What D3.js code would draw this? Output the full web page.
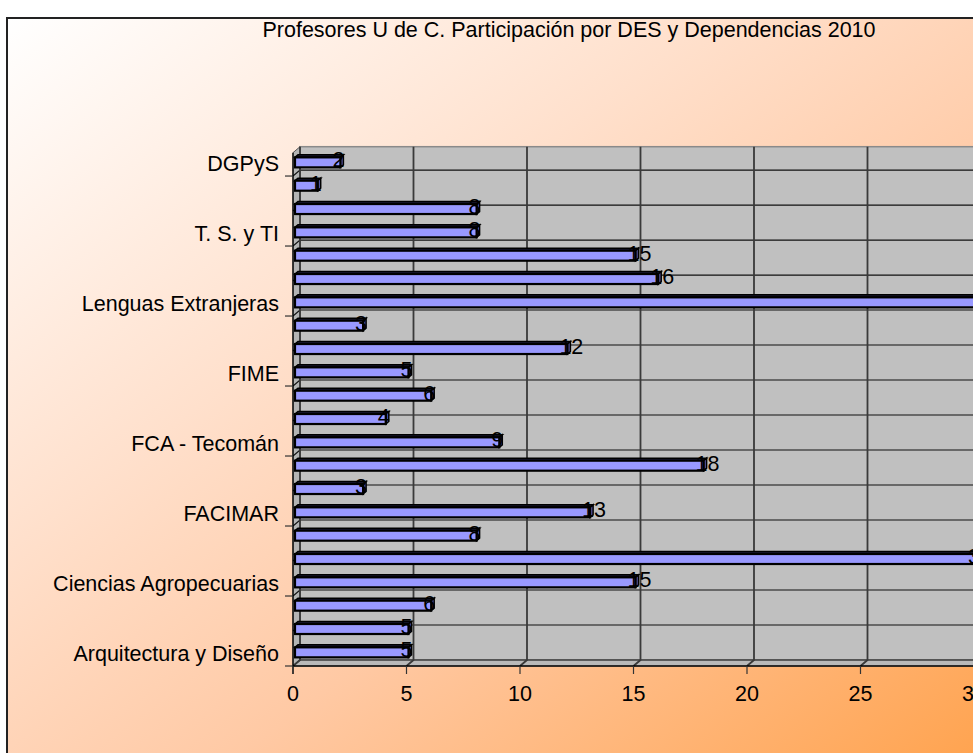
<!DOCTYPE html>
<html>
<head>
<meta charset="utf-8">
<script src="https://cdn.jsdelivr.net/npm/d3@7"></script>
<style>
body{margin:0;background:#fff;overflow:hidden}
text{font-family:"Liberation Sans",Arial,sans-serif;fill:#000}
</style>
</head>
<body>
<svg id="chart" width="973" height="753"></svg>
<script>
// data, bottom category first
var labels = ["Arquitectura y Diseño", null, null, "Ciencias Agropecuarias", null, null,
	"FACIMAR", null, null, "FCA - Tecomán", null, null, "FIME", null, null,
	"Lenguas Extranjeras", null, null, "T. S. y TI", null, null, "DGPyS"];
var values = [5, 5, 6, 15, 30, 8, 13, 3, 18, 9, 4, 6, 5, 12, 3, 36, 16, 15, 8, 8, 1, 2];
var xTicks = [0, 5, 10, 15, 20, 25, 30];
var title = "Profesores U de C. Participación por DES y Dependencias 2010";

var svg = d3.select('#chart');
var DX = 7, DY = -6; // 3d depth of the plot box
var FS = '21.5px';

//background gradient
var defs = svg.append('defs');
var grad = defs.append('linearGradient').attr('id','bg')
	.attr('x1',0).attr('y1',0).attr('x2',1).attr('y2',1);
grad.selectAll('stop')
	.data([[0,'#ffffff'],[0.35,'#ffe0cc'],[0.6,'#ffc9a4'],[1,'#ffa048']])
	.enter().append('stop')
	.attr('offset',function(d){return d[0]})
	.attr('stop-color',function(d){return d[1]});

svg.append('rect')
	.attr('x',7).attr('y',18).attr('width',1010).attr('height',760)
	.attr('fill','url(#bg)')
	.attr('stroke','#222').attr('stroke-width',2);

svg.append('text')
	.attr('x',569).attr('y',37)
	.attr('text-anchor','middle')
	.style('font-size',FS)
	.text(title);

//scales
var x = d3.scaleLinear().domain([0,30]).range([293,974]);
var y = d3.scaleLinear().domain([0,values.length]).range([666,152.7]);
var x0 = x(0), yTop = y(values.length), yBot = y(0), xEnd = 1000;

//walls
var plot = svg.append('g').attr('class','plot');
plot.append('rect').attr('class','back-wall')
	.attr('x',x0+DX).attr('y',yTop+DY)
	.attr('width',xEnd-x0-DX).attr('height',yBot-yTop)
	.attr('fill','#c0c0c0').attr('stroke','#8a8a8a').attr('stroke-width',1.5);
plot.append('path').attr('class','side-wall')
	.attr('d','M'+x0+','+yTop+'L'+(x0+DX)+','+(yTop+DY)+'L'+(x0+DX)+','+(yBot+DY)+'L'+x0+','+yBot+'Z')
	.attr('fill','#b4b4b4').attr('stroke','#555');
plot.append('path').attr('class','floor')
	.attr('d','M'+x0+','+yBot+'L'+(x0+DX)+','+(yBot+DY)+'L'+xEnd+','+(yBot+DY)+'L'+xEnd+','+yBot+'Z')
	.attr('fill','#b9b9b9').attr('stroke','#999');

//grid lines: every 1.5 categories horizontally, every 5 units vertically
var hGrid = d3.range(0, values.length, 1.5);
plot.selectAll('.grid-h')
	.data(hGrid)
	.enter().append('path').attr('class','grid-h')
	.attr('d',function(d){
		var yy = y(d);
		return 'M'+x0+','+yy+'L'+(x0+DX)+','+(yy+DY)+'L'+xEnd+','+(yy+DY);
	})
	.attr('fill','none').attr('stroke','#111').attr('stroke-width',1.2);
plot.selectAll('.grid-v')
	.data(xTicks)
	.enter().append('path').attr('class','grid-v')
	.attr('d',function(d){
		var xx = x(d);
		return 'M'+xx+','+yBot+'L'+(xx+DX)+','+(yBot+DY)+'L'+(xx+DX)+','+(yTop+DY);
	})
	.attr('fill','none').attr('stroke','#3a3a3a').attr('stroke-width',1.8);

//axes lines
plot.append('line').attr('x1',x0).attr('x2',xEnd).attr('y1',yBot).attr('y2',yBot)
	.attr('stroke','#000').attr('stroke-width',1.3);
plot.append('line').attr('x1',x0).attr('x2',x0).attr('y1',yTop).attr('y2',yBot+8)
	.attr('stroke','#000').attr('stroke-width',1.3);

//x ticks + labels
var xAxis = plot.append('g').attr('class','axis-x');
xAxis.selectAll('line')
	.data(xTicks)
	.enter().append('line')
	.attr('x1',function(d){return x(d)}).attr('x2',function(d){return x(d)})
	.attr('y1',yBot).attr('y2',yBot+8)
	.attr('stroke','#333').attr('stroke-width',1.2);
xAxis.selectAll('text')
	.data(xTicks)
	.enter().append('text')
	.attr('x',function(d){return x(d)})
	.attr('y',yBot+35)
	.attr('text-anchor','middle')
	.style('font-size',FS)
	.text(function(d){return d});

//y ticks every 3 categories + labels
var yAxis = plot.append('g').attr('class','axis-y');
yAxis.selectAll('line')
	.data(d3.range(0, values.length, 3))
	.enter().append('line')
	.attr('x1',x0-8).attr('x2',x0)
	.attr('y1',function(d){return y(d)}).attr('y2',function(d){return y(d)})
	.attr('stroke','#333').attr('stroke-width',1.2);
yAxis.selectAll('text')
	.data(labels.map(function(l,i){return {label:l,i:i}}).filter(function(d){return d.label}))
	.enter().append('text')
	.attr('x',x0-14)
	.attr('y',function(d){return y(d.i+0.5)+7})
	.attr('text-anchor','end')
	.style('font-size',FS)
	.text(function(d){return d.label});

//3d bars
var barData = values.map(function(v,i){return {v:v,i:i}});
var BX = 2, BH = 10, BD = 3;
var bars = plot.selectAll('.bar')
	.data(barData)
	.enter().append('g').attr('class','bar');
bars.append('path') //top face
	.attr('d',function(d){
		var l = x(0)+BX, r = x(d.v)+BX, t = y(d.i+0.5)-7;
		return 'M'+l+','+t+'L'+(l+BD)+','+(t-2.5)+'L'+(r+BD)+','+(t-2.5)+'L'+r+','+t+'Z';
	})
	.attr('fill','#1c1c3a').attr('stroke','#000').attr('stroke-width',1.5);
bars.append('path') //end face
	.attr('d',function(d){
		var r = x(d.v)+BX, t = y(d.i+0.5)-7;
		return 'M'+r+','+t+'L'+(r+BD)+','+(t-2.5)+'L'+(r+BD)+','+(t+BH-2.5)+'L'+r+','+(t+BH)+'Z';
	})
	.attr('fill','#5a5aa8').attr('stroke','#000').attr('stroke-width',1.5);
bars.append('rect') //front face
	.attr('x',x(0)+BX)
	.attr('y',function(d){return y(d.i+0.5)-7})
	.attr('width',function(d){return x(d.v)-x(0)})
	.attr('height',BH)
	.attr('fill','#9999ff').attr('stroke','#000').attr('stroke-width',2.2);

//value labels over the bar ends
plot.selectAll('.value')
	.data(barData)
	.enter().append('text').attr('class','value')
	.attr('x',function(d){return x(d.v)+BX-8})
	.attr('y',function(d){return y(d.i+0.5)+3})
	.style('font-size',FS)
	.text(function(d){return d.v});
</script>
</body>
</html>
